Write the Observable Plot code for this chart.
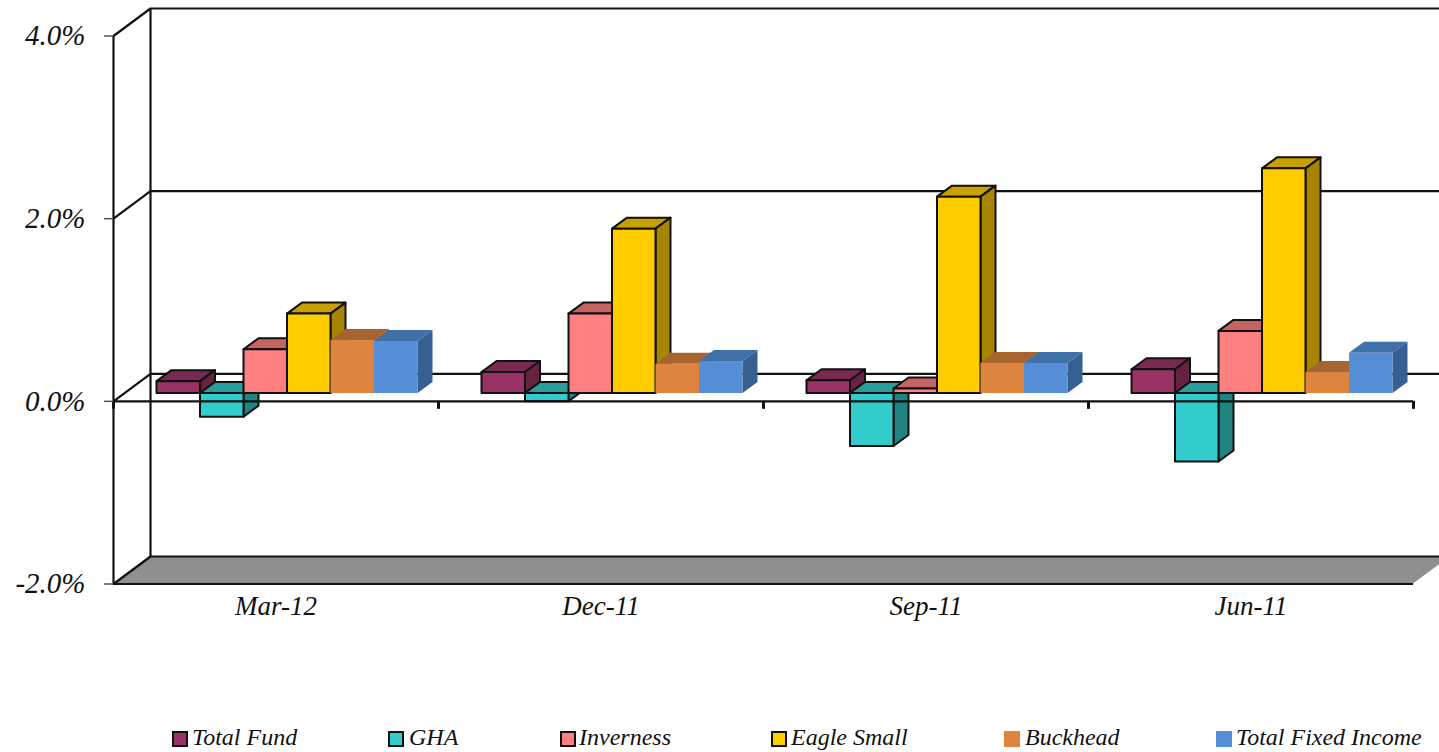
<!DOCTYPE html>
<html>
<head>
<meta charset="utf-8">
<script src="https://cdn.jsdelivr.net/npm/d3@7"></script>
<script src="https://cdn.jsdelivr.net/npm/@observablehq/plot@0.6"></script>
<style>
  html, body { margin: 0; padding: 0; background: #fff; overflow: hidden; }
  #chart { position: relative; width: 1439px; height: 752px; font-family: "Liberation Serif", serif; font-style: italic; color: #111; }
  #chart svg text { font-style: italic; font-family: "Liberation Serif", serif; fill: #111; }
  .sw { position: absolute; top: 91px; width: 12px; height: 12px; box-sizing: content-box; }
  #legend { position: absolute; left: 0; top: 640px; width: 1439px; height: 112px; }
  #legend span.lbl { position: absolute; top: 84px; white-space: nowrap; font-size: 24px; line-height: 26px; }
</style>
</head>
<body>
<div id="chart"><div id="plot"></div><div id="legend"></div></div>
<script>
// ---- data ----
const categories = ["Mar-12", "Dec-11", "Sep-11", "Jun-11"];
const seriesNames = ["Total Fund", "GHA", "Inverness", "Eagle Small", "Buckhead", "Total Fixed Income"];
const totalFund   = [0.13, 0.23, 0.14, 0.26];
const gha         = [-0.26, -0.09, -0.58, -0.75];
const inverness   = [0.48, 0.87, 0.05, 0.68];
const eagleSmall  = [0.87, 1.80, 2.15, 2.46];
const buckhead    = [0.58, 0.32, 0.33, 0.23];
const totalFixed  = [0.57, 0.35, 0.33, 0.44];
const yTicks = [-2, 0, 2, 4];

// ---- styles ----
const values = [totalFund, gha, inverness, eagleSmall, buckhead, totalFixed];
const front = ["#993366", "#33cccc", "#ff8080", "#ffcc00", "#dd843e", "#558ed5"];
const top_  = ["#782a50", "#2a9d9d", "#c66464", "#c8a000", "#a8642f", "#4070a8"];
const side  = ["#66223f", "#228383", "#a85252", "#a68500", "#8f5527", "#376092"];
const outlined = [true, true, true, true, false, false];
const legendSwatchX = [172, 388, 560, 771, 1004, 1216];
const legendTextX = [192, 409, 579, 791, 1025, 1236];

// ---- 3-D geometry, in scale units (x: category groups, y: percent) ----
const pxX = 325, pxY = 91.33;
const wallDx = 37 / pxX, wallDy = 27.5 / pxY;
const barDx = 15 / pxX, barDy = 11 / pxY;
const pad = 43.5 / pxX, barW = 43.5 / pxX, base = 7.8 / pxY;
const xEnd = categories.length, yLo = yTicks[0], yHi = yTicks[yTicks.length - 1];

const ink = "#111";
const lw = 2.2;
const marks = [];

// floor
marks.push(Plot.areaX([
  {y: yLo, x1: 0, x2: xEnd},
  {y: yLo + wallDy, x1: wallDx, x2: xEnd + wallDx}
], {y: "y", x1: "x1", x2: "x2", fill: "#8f8f8f"}));

// back wall gridlines
marks.push(Plot.ruleY(yTicks, {y: d => d + wallDy, x1: wallDx, x2: xEnd + wallDx, stroke: ink, strokeWidth: lw}));
// back wall vertical
marks.push(Plot.ruleX([wallDx], {y1: yLo + wallDy, y2: yHi + wallDy, stroke: ink, strokeWidth: lw}));
// side wall diagonals
marks.push(Plot.link(yTicks, {x1: 0, x2: wallDx, y1: d => d, y2: d => d + wallDy, stroke: ink, strokeWidth: lw}));
// front vertical + floor front edge
marks.push(Plot.ruleX([0], {y1: yLo, y2: yHi, stroke: ink, strokeWidth: lw}));
marks.push(Plot.ruleY([yLo], {x1: 0, x2: xEnd, stroke: ink, strokeWidth: lw}));

// bars, series by series so that later ones overlap earlier ones
values.forEach((vals, j) => {
  const rows = vals.map((v, i) => {
    const x1 = i + pad + j * barW, x2 = x1 + barW;
    const lo = Math.min(v, 0) + base, hi = Math.max(v, 0) + base;
    return {i, x1, x2, lo, hi};
  });
  const line = outlined[j] ? {stroke: ink, strokeWidth: 2, strokeLinejoin: "round"} : {};
  const tops = rows.flatMap(r => [
    {bar: r.i, y: r.hi, x1: r.x1, x2: r.x2},
    {bar: r.i, y: r.hi + barDy, x1: r.x1 + barDx, x2: r.x2 + barDx}
  ]);
  const sides = rows.flatMap(r => [
    {bar: r.i, x: r.x2, y1: r.lo, y2: r.hi},
    {bar: r.i, x: r.x2 + barDx, y1: r.lo + barDy, y2: r.hi + barDy}
  ]);
  marks.push(Plot.areaX(tops, {y: "y", x1: "x1", x2: "x2", z: "bar", fill: top_[j], ...line}));
  marks.push(Plot.areaY(sides, {x: "x", y1: "y1", y2: "y2", z: "bar", fill: side[j], ...line}));
  marks.push(Plot.rect(rows, {x1: "x1", x2: "x2", y1: "lo", y2: "hi", fill: front[j], ...line}));
});

// front zero axis on top of the bars
marks.push(Plot.ruleY([0], {x1: 0, x2: xEnd, stroke: ink, strokeWidth: lw}));
marks.push(Plot.ruleX(d3.range(0, xEnd + 1), {y1: 0, y2: -8 / pxY, stroke: ink, strokeWidth: 3}));

marks.push(Plot.axisY({
  ticks: yTicks, tickSize: 9, tickPadding: 19, label: null, anchor: "left", fontSize: 29,
  tickFormat: d => d.toFixed(1) + "%", stroke: "#555", strokeWidth: 1.5
}));
marks.push(Plot.axisX({
  ticks: categories.map((c, i) => i + 0.5), tickSize: 0, tickPadding: 12, label: null, anchor: "bottom", fontSize: 27,
  tickFormat: d => categories[Math.floor(d)]
}));

const plot = Plot.plot({
  width: 1439, height: 640,
  marginLeft: 113, marginRight: 26, marginTop: 35.5, marginBottom: 56.5,
  x: {domain: [0, xEnd], axis: null},
  y: {domain: [yLo, yHi], axis: null},
  style: {fontSize: "27px", background: "transparent", overflow: "visible", maxWidth: "none"},
  marks
});
document.getElementById("plot").appendChild(plot);

// legend, below the SVG
const legend = document.getElementById("legend");
seriesNames.forEach((name, j) => {
  const sw = document.createElement("span");
  sw.className = "sw";
  sw.style.left = legendSwatchX[j] + "px";
  sw.style.background = front[j];
  sw.style.border = "2px solid " + (outlined[j] ? ink : front[j]);
  legend.appendChild(sw);
  const lb = document.createElement("span");
  lb.className = "lbl";
  lb.style.left = legendTextX[j] + "px";
  lb.textContent = name;
  legend.appendChild(lb);
});
</script>
</body>
</html>
